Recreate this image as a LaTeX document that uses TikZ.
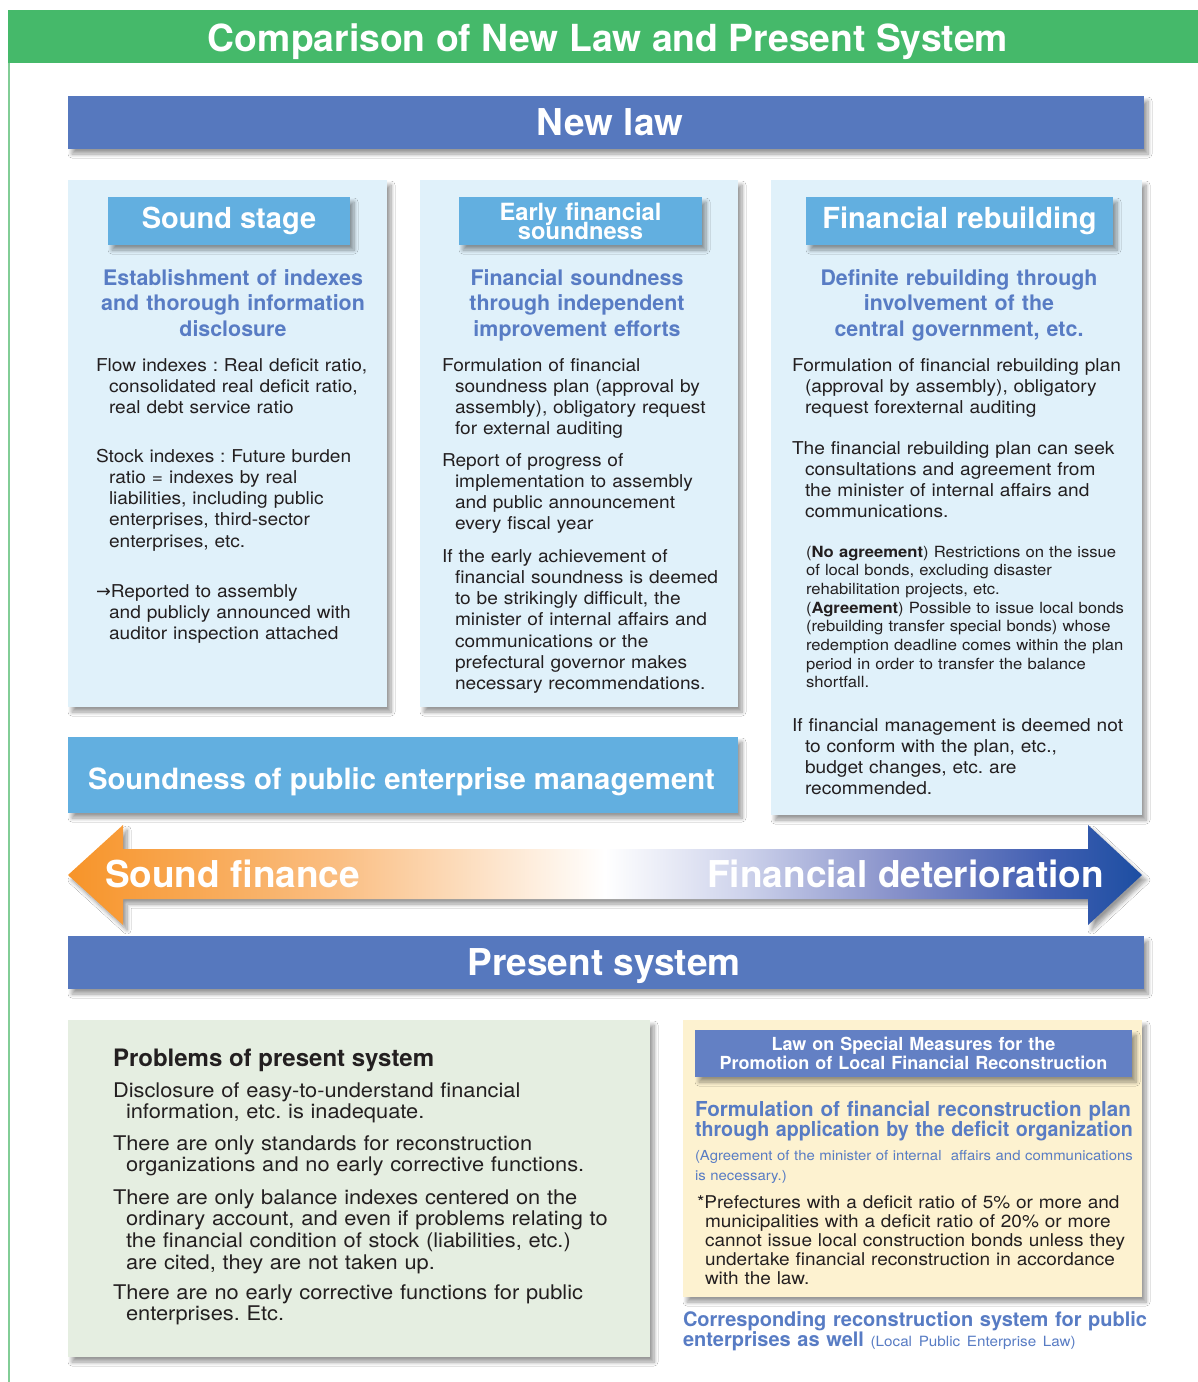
\documentclass[tikz,border=0pt]{standalone}
\usepackage{fontspec}
\setmainfont{TeX Gyre Heros}
\newfontfamily\txtfont{TeX Gyre Heros}[FakeStretch=1.08]
\newfontfamily\symfont{DejaVu Sans}
\usetikzlibrary{shadows.blur}
\frenchspacing
\definecolor{titleGreen}{RGB}{69,185,106}
\definecolor{frameGreen}{RGB}{130,205,150}
\definecolor{barBlue}{RGB}{86,120,190}
\definecolor{headBlue}{RGB}{98,175,224}
\definecolor{panelBlue}{RGB}{224,241,250}
\definecolor{textBlue}{RGB}{88,124,196}
\definecolor{panelGreen}{RGB}{229,238,225}
\definecolor{panelYellow}{RGB}{253,242,208}
\definecolor{lawBlue}{RGB}{99,128,196}
\definecolor{textDark}{RGB}{35,31,32}
\definecolor{sfOrange}{RGB}{247,148,41}
\definecolor{sfPeach}{RGB}{250,190,130}
\definecolor{fdLilac}{RGB}{205,210,235}
\definecolor{fdMid}{RGB}{135,145,202}
\definecolor{fdDeep}{RGB}{65,95,178}
\definecolor{fdBlue}{RGB}{28,78,162}
\pgfdeclarehorizontalshading{finshade}{100bp}{color(0bp)=(sfOrange); color(25bp)=(sfOrange); color(37.5bp)=(sfPeach); color(50bp)=(white); color(56.5bp)=(fdLilac); color(63.5bp)=(fdMid); color(70.5bp)=(fdDeep); color(75bp)=(fdBlue); color(100bp)=(fdBlue)}
\newcommand{\hangsp}{\hspace*{13pt}}
\newcommand{\tightlines}{\lineskiplimit=-100pt\relax}

\begin{document}
\begin{tikzpicture}[x=1pt, y=-1pt,
  every node/.style={inner sep=0pt, outer sep=0pt},
  boxshadow/.style={blur shadow={shadow xshift=4pt, shadow yshift=-5pt, shadow blur radius=4pt, shadow blur steps=8, shadow opacity=40}},
  block/.style={anchor=north west, boxshadow},
  bandbar/.style={block, fill=barBlue, minimum width=1076pt, minimum height=53pt},
  bandtext/.style={anchor=base, text=white, font=\bfseries\fontsize{37}{40}\selectfont},
  panel/.style={block, fill=panelBlue},
  headbox/.style={block, fill=headBlue, minimum height=48pt, text=white, font=\bfseries\fontsize{29}{32}\selectfont},
  subhead/.style={anchor=base, text width=330pt, align=center, text=textBlue, font=\bfseries\fontsize{21.4}{25.5}\selectfont},
  bodytext/.style={anchor=base west, text width=600pt, align=left, text=textDark, font=\txtfont\fontsize{17.7}{21.3}\selectfont},
  smalltext/.style={bodytext, font=\txtfont\fontsize{15.4}{18.7}\selectfont},
  probtext/.style={bodytext, font=\txtfont\fontsize{20.2}{21.7}\selectfont},
  arrowtext/.style={text=white, font=\bfseries\fontsize{37}{40}\selectfont}
]
\useasboundingbox (0,0) rectangle (1198,1382);
\fill[white] (0,0) rectangle (1198,1382);

% title and frame
\node[anchor=north west, fill=titleGreen, minimum width=1190pt, minimum height=53pt] (band) at (8,10) {};
\node[anchor=base, text=white, font=\bfseries\fontsize{37.3}{40}\selectfont] (title) at (608,51.7) {Comparison of New Law and Present System};
\draw[frameGreen, line width=1.5pt] (8.75,63) -- (8.75,1382);

% new law
\node[bandbar] (newlaw) at (68,96) {};
\node[bandtext] (newlawtext) at (610,135) {New law};

\node[panel, minimum width=319pt, minimum height=527pt] (stage1) at (68,180) {};
\node[headbox, minimum width=242pt] (head1) at (108,197) {Sound stage};
\node[subhead] (aim1) at (233,285) {Establishment of indexes\\and thorough information\\disclosure};
\node[bodytext] (flow) at (96,371) {Flow indexes : Real deficit ratio,\\\hangsp consolidated real deficit ratio,\\\hangsp real debt service ratio};
\node[bodytext] (stock) at (96,462) {Stock indexes : Future burden\\\hangsp ratio = indexes by real\\\hangsp liabilities, including public\\\hangsp enterprises, third-sector\\\hangsp enterprises, etc.};
\node[bodytext] (report) at (96,597) {{\symfont →}Reported to assembly\\\hangsp and publicly announced with\\\hangsp auditor inspection attached};

\node[panel, minimum width=318pt, minimum height=527pt] (stage2) at (420,180) {};
\node[headbox, minimum width=243pt, text width=243pt, align=center, font=\bfseries\fontsize{23.7}{19.3}\selectfont\tightlines] (head2) at (459,197) {Early financial\\soundness};
\node[subhead] (aim2) at (577,285) {Financial soundness\\through independent\\improvement efforts};
\node[bodytext] (plan2) at (442,371) {Formulation of financial\\\hangsp soundness plan (approval by\\\hangsp assembly), obligatory request\\\hangsp for external auditing};
\node[bodytext] (progress) at (442,466) {Report of progress of\\\hangsp implementation to assembly\\\hangsp and public announcement\\\hangsp every fiscal year};
\node[bodytext] (advice) at (442,562) {If the early achievement of\\\hangsp financial soundness is deemed\\\hangsp to be strikingly difficult, the\\\hangsp minister of internal affairs and\\\hangsp communications or the\\\hangsp prefectural governor makes\\\hangsp necessary recommendations.};

\node[panel, minimum width=371pt, minimum height=635pt] (stage3) at (771,180) {};
\node[headbox, minimum width=307pt] (head3) at (806,197) {Financial rebuilding};
\node[subhead] (aim3) at (959,285) {Definite rebuilding through\\involvement of the\\central government, etc.};
\node[bodytext] (plan3) at (792,371) {Formulation of financial rebuilding plan\\\hangsp (approval by assembly), obligatory\\\hangsp request forexternal auditing};
\node[bodytext] (consult) at (792,454) {The financial rebuilding plan can seek\\\hangsp consultations and agreement from\\\hangsp the minister of internal affairs and\\\hangsp communications.};
\node[smalltext] (bonds) at (806,557) {(\textbf{No agreement}) Restrictions on the issue\\of local bonds, excluding disaster\\rehabilitation projects, etc.\\(\textbf{Agreement}) Possible to issue local bonds\\(rebuilding transfer special bonds) whose\\redemption deadline comes within the plan\\period in order to transfer the balance\\shortfall.};
\node[bodytext] (budget) at (792,731) {If financial management is deemed not\\\hangsp to conform with the plan, etc.,\\\hangsp budget changes, etc. are\\\hangsp recommended.};

\node[block, fill=headBlue, minimum width=670pt, minimum height=76pt] (enterprise) at (68,737) {};
\node[anchor=base west, text=white, font=\bfseries\fontsize{29.3}{32}\selectfont] (enterprisetext) at (88,789) {Soundness of public enterprise management};

% finance arrow
\shade[shading=finshade, boxshadow] (68,875) -- (123,825) -- (123,849) -- (1088,849) -- (1088,825) -- (1142,875) -- (1088,925) -- (1088,899) -- (123,899) -- (123,925) -- cycle;
\node[arrowtext, anchor=base west] (sound) at (105,887) {Sound finance};
\node[arrowtext, anchor=base east] (worse) at (1104,887) {Financial deterioration};

% present system
\node[bandbar] (present) at (68,936) {};
\node[bandtext] (presenttext) at (604,975) {Present system};

\node[block, fill=panelGreen, minimum width=582pt, minimum height=337pt] (probs) at (68,1020) {};
\node[anchor=base west, text=textDark, font=\bfseries\fontsize{24}{26}\selectfont] (probtitle) at (113,1066.7) {Problems of present system};
\node[probtext] (prob1) at (113,1097) {Disclosure of easy-to-understand financial\\\hangsp information, etc. is inadequate.};
\node[probtext] (prob2) at (113,1150) {There are only standards for reconstruction\\\hangsp organizations and no early corrective functions.};
\node[probtext] (prob3) at (113,1204) {There are only balance indexes centered on the\\\hangsp ordinary account, and even if problems relating to\\\hangsp the financial condition of stock (liabilities, etc.)\\\hangsp are cited, they are not taken up.};
\node[probtext] (prob4) at (113,1299) {There are no early corrective functions for public\\\hangsp enterprises. Etc.};

\node[block, fill=panelYellow, minimum width=459pt, minimum height=277pt] (special) at (683,1020) {};
\node[block, fill=lawBlue, minimum width=437pt, minimum height=47pt, text width=437pt, text=white, align=center, font=\bfseries\fontsize{18}{19}\selectfont] (lawbox) at (695,1030) {Law on Special Measures for the\\Promotion of Local Financial Reconstruction};
\node[bodytext, text=textBlue, font=\bfseries\fontsize{20.6}{20.7}\selectfont] (recon) at (695,1116) {Formulation of financial reconstruction plan\\\scalebox{0.955}[1]{through application by the deficit organization}};
\node[bodytext, text=textBlue, font=\txtfont\fontsize{13.8}{20.5}\selectfont] (minister) at (695,1160) {(Agreement of the minister of internal\ \ affairs and communications\\is necessary.)};
\node[bodytext, font=\txtfont\fontsize{17.6}{19}\selectfont] (bondnote) at (697,1208) {*Prefectures with a deficit ratio of 5\% or more and\\\hspace*{8pt}municipalities with a deficit ratio of 20\% or more\\\hspace*{8pt}cannot issue local construction bonds unless they\\\hspace*{8pt}undertake financial reconstruction in accordance\\\hspace*{8pt}with the law.};
\node[bodytext, text=textBlue, font=\bfseries\fontsize{20}{20}\selectfont] (publicent) at (683,1326.7) {Corresponding reconstruction system for public\\enterprises as well {\txtfont\mdseries\fontsize{14.1}{20}\selectfont (Local Public Enterprise Law)}};
\end{tikzpicture}
\end{document}
